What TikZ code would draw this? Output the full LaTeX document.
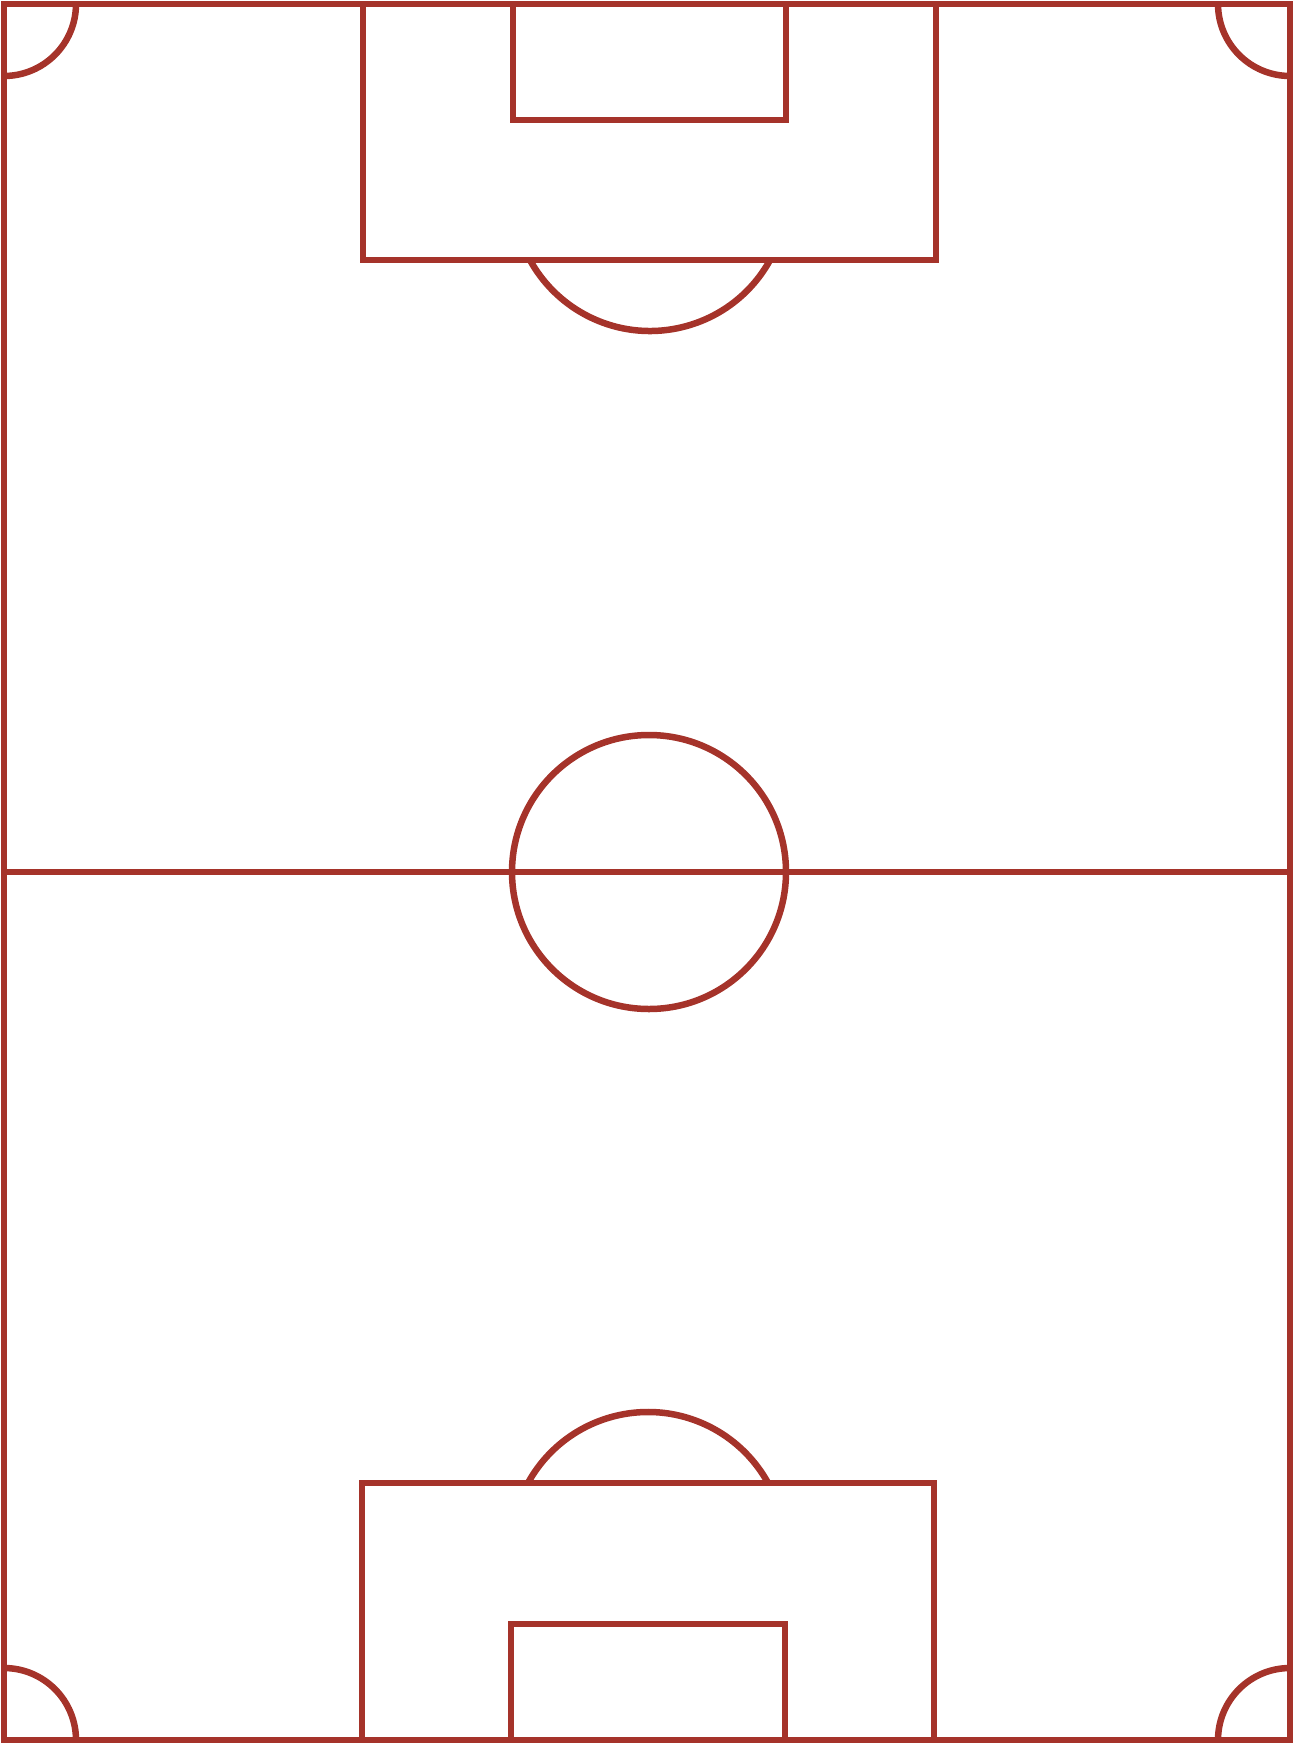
\documentclass[tikz,border=0pt]{standalone}
\definecolor{pitchred}{RGB}{165,51,42}

\begin{document}
\begin{tikzpicture}[x=1pt, y=-1pt, line join=miter,
  pitch/.style={draw=pitchred, line width=6.5pt}]

  \useasboundingbox (0,0) rectangle (1296,1744);

  %% Outline and halfway line
  \draw[pitch] (4,4) rectangle (1290,1740);
  \draw[pitch] (4,872) -- (1290,872);

  % Centre circle
  \def\r{137}
  \draw[pitch] (649,872) circle (\r);

  %% Top end
  % penalty area
  \draw[pitch] (363,4) rectangle (936,260);
  % goal area
  \draw[pitch] (513,4) rectangle (786,120);
  % arc outside the box
  \draw[pitch] (650,194) ++(28.8:\r) arc (28.8:151.2:\r);

  %% Bottom end
  % penalty area
  \draw[pitch] (362,1483) rectangle (934,1740);
  % goal area
  \draw[pitch] (511,1624) rectangle (785,1740);
  % arc outside the box
  \draw[pitch] (648,1549) ++(208.8:\r) arc (208.8:331.2:\r);

  %% Corner arcs
  \def\cr{72}
  \draw[pitch] (4,4) ++(0:\cr) arc (0:90:\cr);
  \draw[pitch] (1290,4) ++(90:\cr) arc (90:180:\cr);
  \draw[pitch] (1290,1740) ++(180:\cr) arc (180:270:\cr);
  \draw[pitch] (4,1740) ++(270:\cr) arc (270:360:\cr);
\end{tikzpicture}
\end{document}
